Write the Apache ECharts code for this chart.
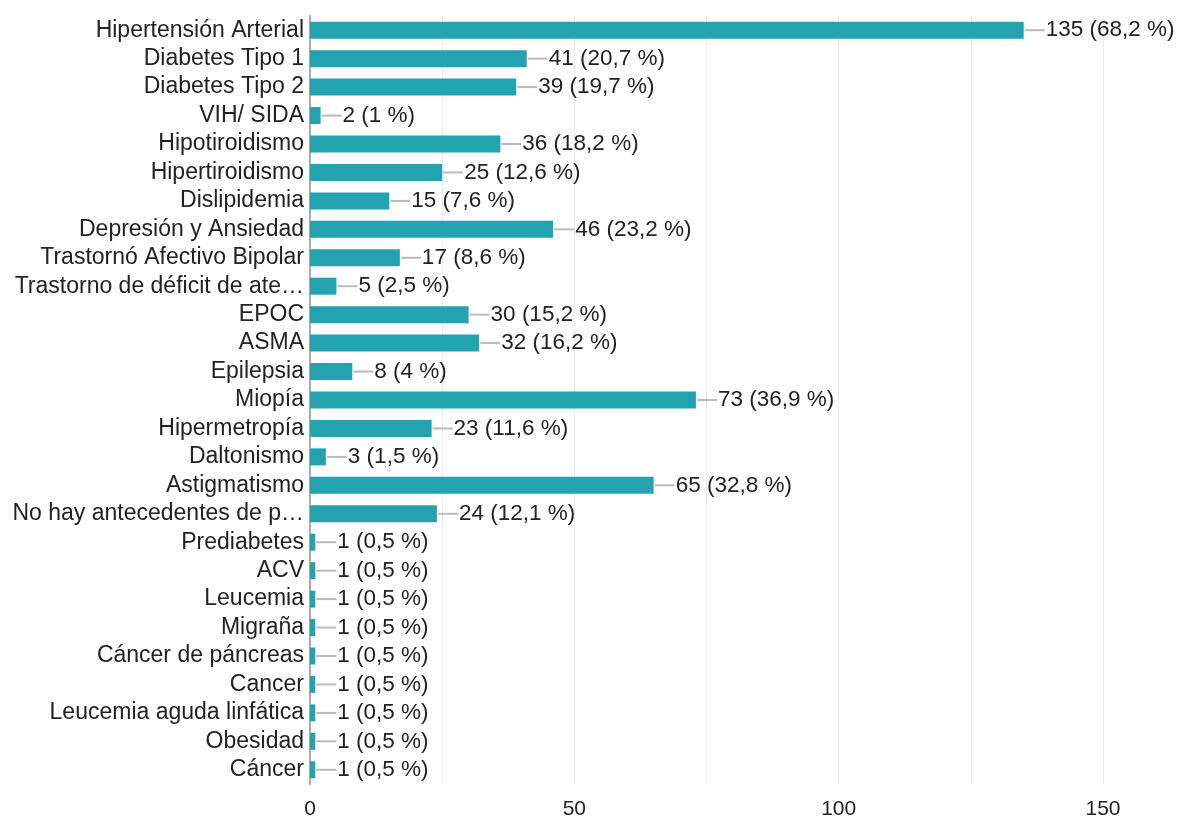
<!DOCTYPE html>
<html><head><meta charset="utf-8">
<script src="https://cdn.jsdelivr.net/npm/echarts@6/dist/echarts.min.js"></script>
<style>html,body{margin:0;padding:0;background:#fff}#c{width:1181px;height:819px}</style>
</head><body><div id="c"></div>
<script>
const categories = ["Hipertensión Arterial","Diabetes Tipo 1","Diabetes Tipo 2","VIH/ SIDA","Hipotiroidismo","Hipertiroidismo","Dislipidemia","Depresión y Ansiedad","Trastornó Afectivo Bipolar","Trastorno de déficit de ate…","EPOC","ASMA","Epilepsia","Miopía","Hipermetropía","Daltonismo","Astigmatismo","No hay antecedentes de p…","Prediabetes","ACV","Leucemia","Migraña","Cáncer de páncreas","Cancer","Leucemia aguda linfática","Obesidad","Cáncer"];
const counts = [135,41,39,2,36,25,15,46,17,5,30,32,8,73,23,3,65,24,1,1,1,1,1,1,1,1,1];
const percents = ["68,2","20,7","19,7","1","18,2","12,6","7,6","23,2","8,6","2,5","15,2","16,2","4","36,9","11,6","1,5","32,8","12,1","0,5","0,5","0,5","0,5","0,5","0,5","0,5","0,5","0,5"];
const xTickLabels = ["0","50","100","150"];

const chart = echarts.init(document.getElementById('c'));
const FONT = 'Liberation Sans, Arial, sans-serif';
chart.setOption({
  animation:false,
  grid:{left:310,right:78,top:16,bottom:35,containLabel:false,outerBoundsMode:'none'},
  xAxis:{type:'value',min:0,max:150,interval:25,
    axisLine:{show:false},axisTick:{show:false},
    splitLine:{lineStyle:{color:'#ebebeb',width:1}},
    axisLabel:{margin:15,fontSize:21,color:'#222',fontFamily:FONT,
      formatter:v=>xTickLabels.includes(String(v))?String(v):''}},
  yAxis:{type:'category',data:categories,inverse:true,
    axisLine:{show:true,lineStyle:{color:'#aaa',width:2}},axisTick:{show:false},
    axisLabel:{interval:0,margin:6,fontSize:23,color:'#222',fontFamily:FONT}},
  series:[{type:'bar',data:counts,barWidth:17,
    itemStyle:{color:'#24a2b0'},
    label:{show:true,position:'right',distance:1,
      formatter:p=>'{l|}{t|'+counts[p.dataIndex]+' ('+percents[p.dataIndex]+' %)}',
      rich:{l:{width:20,height:2,backgroundColor:'#bbb'},
        t:{fontSize:22.5,color:'#222',fontFamily:FONT,padding:[0,0,0,1]}}}}]
});
</script></body></html>
